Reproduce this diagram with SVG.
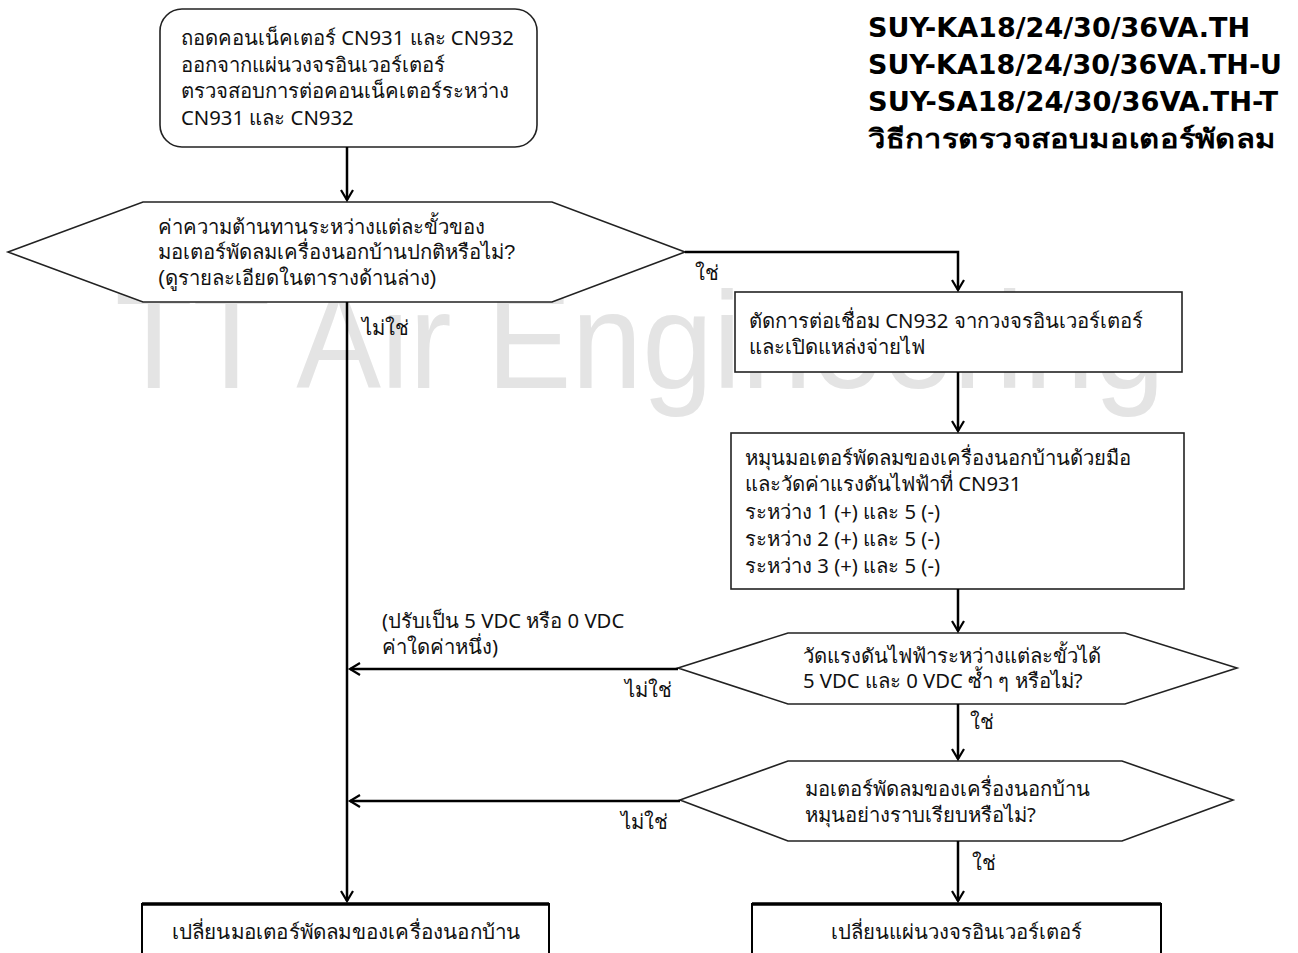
<svg xmlns="http://www.w3.org/2000/svg" width="1298" height="953" viewBox="0 0 1298 953">
<style>
.t{font-family:"Noto Sans","DejaVu Sans",sans-serif;font-size:20.3px;fill:#111}
.n{font-family:"Liberation Sans Narrow","Liberation Sans","Noto Sans",sans-serif;font-size:20.3px;fill:#111}
.h{font-family:"DejaVu Sans","Noto Sans",sans-serif;font-size:26px;font-weight:bold;fill:#000}
.wm{font-family:"Liberation Sans",Arial,sans-serif;font-size:137px;fill:#e4e4e4}
.shape{fill:#fff;stroke:#222;stroke-width:1.6}
.con{fill:none;stroke:#000;stroke-width:2.5}
</style>
<defs>
<marker id="arr" markerWidth="14" markerHeight="14" refX="11" refY="7" orient="auto" markerUnits="userSpaceOnUse">
<path d="M1,1 L11,7 L1,13" fill="none" stroke="#000" stroke-width="2.2"/>
</marker>
</defs>
<rect width="1298" height="953" fill="#fff"/>
<text class="wm" x="115" y="388" textLength="1050" lengthAdjust="spacingAndGlyphs">TT Air Engineering</text>

<g id="title">
<text class="h" x="868" y="37" textLength="382" lengthAdjust="spacingAndGlyphs">SUY-KA18/24/30/36VA.TH</text>
<text class="h" x="868" y="74" textLength="414" lengthAdjust="spacingAndGlyphs">SUY-KA18/24/30/36VA.TH-U</text>
<text class="h" x="868" y="111" textLength="410" lengthAdjust="spacingAndGlyphs">SUY-SA18/24/30/36VA.TH-T</text>
<text class="h" x="868" y="148" textLength="407" lengthAdjust="spacingAndGlyphs">วิธีการตรวจสอบมอเตอร์พัดลม</text>
</g>

<g id="start">
<rect class="shape" x="160" y="9" width="377" height="138" rx="22"/>
<text class="t" x="181" y="45">ถอดคอนเน็คเตอร์ CN931 และ CN932</text>
<text class="t" x="181" y="72">ออกจากแผ่นวงจรอินเวอร์เตอร์</text>
<text class="t" x="181" y="98">ตรวจสอบการต่อคอนเน็คเตอร์ระหว่าง</text>
<text class="t" x="181" y="125">CN931 และ CN932</text>
</g>

<g id="dec1">
<polygon class="shape" points="8,252 143,202 552,202 685,252 552,302 143,302"/>
<text class="n" x="158" y="234">ค่าความต้านทานระหว่างแต่ละขั้วของ</text>
<text class="n" x="158" y="259">มอเตอร์พัดลมเครื่องนอกบ้านปกติหรือไม่?</text>
<text class="n" x="158" y="285">(ดูรายละเอียดในตารางด้านล่าง)</text>
</g>

<g id="box2">
<rect class="shape" x="735" y="292" width="447" height="80"/>
<text class="t" x="749" y="328">ตัดการต่อเชื่อม CN932 จากวงจรอินเวอร์เตอร์</text>
<text class="t" x="749" y="354">และเปิดแหล่งจ่ายไฟ</text>
</g>

<g id="box3">
<rect class="shape" x="731" y="433" width="453" height="156"/>
<text class="t" x="745" y="465">หมุนมอเตอร์พัดลมของเครื่องนอกบ้านด้วยมือ</text>
<text class="t" x="745" y="491">และวัดค่าแรงดันไฟฟ้าที่ CN931</text>
<text class="t" x="745" y="519">ระหว่าง 1 (+) และ 5 (-)</text>
<text class="t" x="745" y="546">ระหว่าง 2 (+) และ 5 (-)</text>
<text class="t" x="745" y="573">ระหว่าง 3 (+) และ 5 (-)</text>
</g>

<g id="dec2">
<polygon class="shape" points="678,668 788,633 1125,633 1237,668 1125,704 788,704"/>
<text class="t" x="803" y="663">วัดแรงดันไฟฟ้าระหว่างแต่ละขั้วได้</text>
<text class="t" x="803" y="688">5 VDC และ 0 VDC ซ้ำ ๆ หรือไม่?</text>
</g>

<g id="dec3">
<polygon class="shape" points="680,800 788,761 1122,761 1233,800 1122,841 788,841"/>
<text class="t" x="805" y="796">มอเตอร์พัดลมของเครื่องนอกบ้าน</text>
<text class="t" x="805" y="822">หมุนอย่างราบเรียบหรือไม่?</text>
</g>

<g id="end1">
<rect x="142" y="904" width="407" height="60" fill="#fff" stroke="#000" stroke-width="2"/>
<line x1="142" y1="904" x2="549" y2="904" stroke="#000" stroke-width="3.5"/>
<text class="n" x="346" y="939" text-anchor="middle" textLength="349" lengthAdjust="spacingAndGlyphs">เปลี่ยนมอเตอร์พัดลมของเครื่องนอกบ้าน</text>
</g>

<g id="end2">
<rect x="752" y="904" width="409" height="60" fill="#fff" stroke="#000" stroke-width="2"/>
<line x1="752" y1="904" x2="1161" y2="904" stroke="#000" stroke-width="3.5"/>
<text class="n" x="956" y="939" text-anchor="middle">เปลี่ยนแผ่นวงจรอินเวอร์เตอร์</text>
</g>

<g id="connectors">
<line class="con" x1="347" y1="147" x2="347" y2="200" marker-end="url(#arr)"/>
<polyline class="con" points="685,252 958,252 958,290" marker-end="url(#arr)"/>
<line class="con" x1="958" y1="372" x2="958" y2="431" marker-end="url(#arr)"/>
<line class="con" x1="958" y1="589" x2="958" y2="631" marker-end="url(#arr)"/>
<line class="con" x1="958" y1="704" x2="958" y2="759" marker-end="url(#arr)"/>
<line class="con" x1="958" y1="841" x2="958" y2="901" marker-end="url(#arr)"/>
<line class="con" x1="347" y1="302" x2="347" y2="901" marker-end="url(#arr)"/>
<line class="con" x1="678" y1="669" x2="350" y2="669" marker-end="url(#arr)"/>
<line class="con" x1="680" y1="801" x2="350" y2="801" marker-end="url(#arr)"/>
</g>

<g id="labels">
<text class="n" x="695" y="280">ใช่</text>
<text class="n" x="362" y="335">ไม่ใช่</text>
<text class="t" x="382" y="628">(ปรับเป็น 5 VDC หรือ 0 VDC</text>
<text class="t" x="382" y="654">ค่าใดค่าหนึ่ง)</text>
<text class="t" x="625" y="697">ไม่ใช่</text>
<text class="t" x="970" y="729">ใช่</text>
<text class="t" x="621" y="829">ไม่ใช่</text>
<text class="t" x="972" y="870">ใช่</text>
</g>
</svg>
